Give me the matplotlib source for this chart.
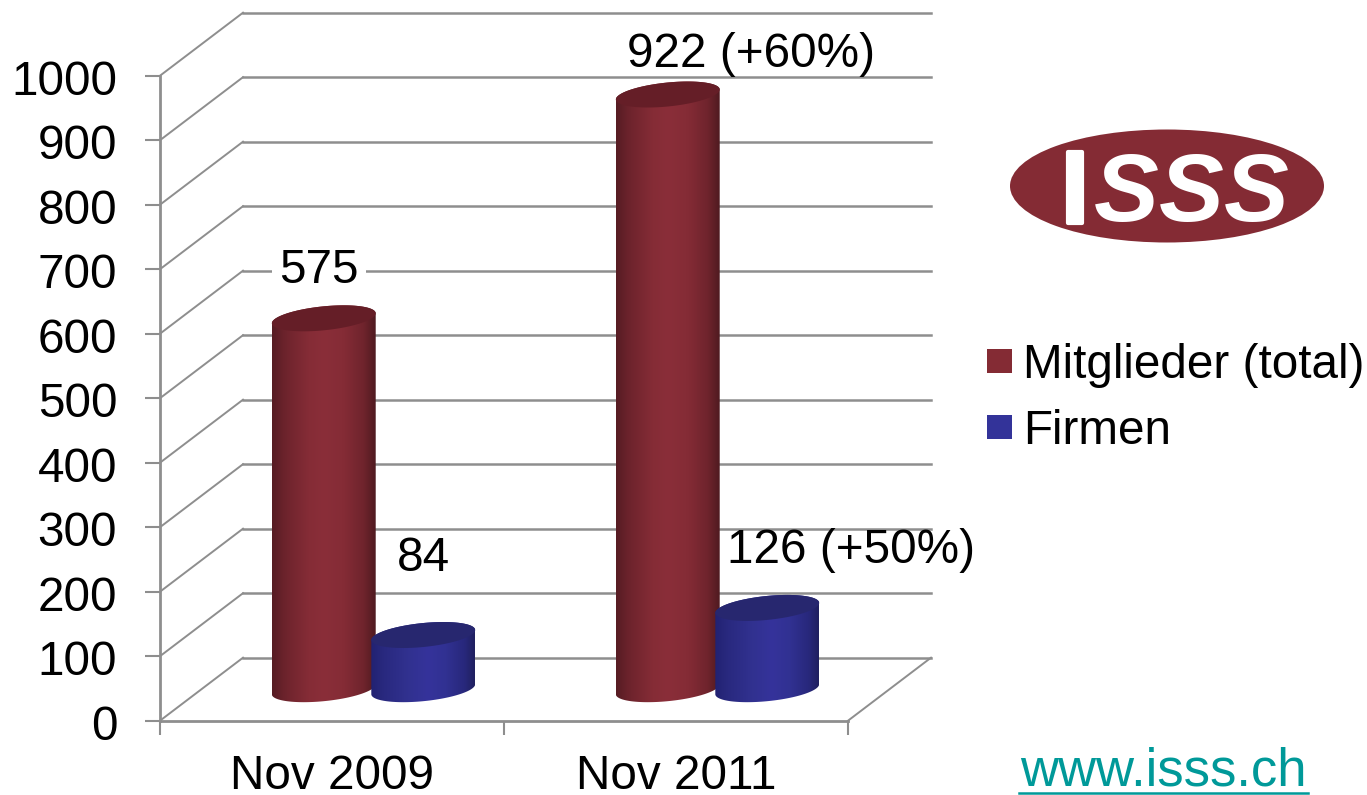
import numpy as np
import matplotlib
matplotlib.use('Agg')
import matplotlib.pyplot as plt
import matplotlib.patheffects as pe
from matplotlib.colors import LinearSegmentedColormap
from matplotlib.lines import Line2D
from matplotlib.patches import Ellipse, Patch, PathPatch
from matplotlib.path import Path
from matplotlib.transforms import ScaledTranslation

plt.rcParams['font.family'] = ['Liberation Sans', 'DejaVu Sans']

W, H = 1367, 795

categories = ['Nov 2009', 'Nov 2011']
series_names = ['Mitglieder (total)', 'Firmen']
mitglieder = [575, 922]
firmen = [84, 126]
labels_mitglieder = ['575', '922 (+60%)']
labels_firmen = ['84', '126 (+50%)']
yticks = [0, 100, 200, 300, 400, 500, 600, 700, 800, 900, 1000]

# colours
RED = '#842b34'
BLUE = '#333399'
GRID = '#8e8e8e'
red_top = '#651e27'
blue_top = '#27276f'
red_cmap = LinearSegmentedColormap.from_list('r', [(0, '#561c23'), (.12, '#6c232c'), (.35, '#852c36'), (.5, '#8a2e39'), (.68, '#852c36'), (.88, '#70242d'), (1, '#4f1a20')])
blue_cmap = LinearSegmentedColormap.from_list('b', [(0, '#222272'), (.12, '#29297f'), (.35, '#31318f'), (.55, '#35339b'), (.72, '#313192'), (.9, '#28287c'), (1, '#20205f')])

# 3d look, in axis units (x: one category = 1, y: chart value)
DEPTH_X = 0.2413
DEPTH_Y = 97.7
BAR_A = 0.151      # half width of cylinder
BAR_B = 18.6       # ellipse half height
BAR_S = 7.75       # tilt of ellipse
BAR_OFF = 0.1446   # series offset from the category centre
FS = 34.3


def fx(px):
    return px / W


def fy(py):
    return 1 - py / H


def cylinder(ax, cx, value, cmap, top_color):
    base = DEPTH_Y / 2
    t = np.linspace(np.pi, 2 * np.pi, 60)
    bx = cx + BAR_A * np.cos(t)
    by = base + BAR_B * np.sin(t) + BAR_S * np.cos(t)
    t2 = np.linspace(0, 2 * np.pi, 120)
    tx = cx + BAR_A * np.cos(t2)
    ty = base + value + BAR_B * np.sin(t2) + BAR_S * np.cos(t2)
    # body outline: bottom half ellipse, then up and over the top half
    t3 = t2[:60]
    ux = cx + BAR_A * np.cos(t3)
    uy = base + value + BAR_B * np.sin(t3) + BAR_S * np.cos(t3)
    verts = np.vstack([np.c_[bx, by], np.c_[ux, uy]])
    body = PathPatch(Path(verts), fc='none', ec='none', zorder=3)
    ax.add_patch(body)
    grad = np.linspace(0, 1, 256).reshape(1, -1)
    im = ax.imshow(grad, cmap=cmap, aspect='auto', zorder=3, interpolation='bilinear',
                   extent=(cx - BAR_A, cx + BAR_A, base - BAR_B - BAR_S, base + value + BAR_B + BAR_S))
    im.set_clip_path(body)
    ax.fill(tx, ty, color=top_color, lw=0, zorder=3)


fig = plt.figure(figsize=(W / 100, H / 100), dpi=100, facecolor='white')
ax = fig.add_axes([fx(160), fy(720.7), 688 / W, 645 / H])

# walls
for v in yticks:
    ax.plot([0, DEPTH_X], [v, v + DEPTH_Y], color=GRID, lw=1.4, clip_on=False, zorder=1)
    ax.plot([DEPTH_X, 2 + DEPTH_X], [v + DEPTH_Y, v + DEPTH_Y], color=GRID, lw=1.8, clip_on=False, zorder=1)
ax.plot([2, 2 + DEPTH_X], [0, DEPTH_Y], color=GRID, lw=1.4, clip_on=False, zorder=1)

# bars and labels
offsets_m = [(-5, 48), (83, 40)]
offsets_f = [(0, 77), (83.5, 57)]
for i in range(len(categories)):
    c = i + 0.5 + DEPTH_X / 2
    cylinder(ax, c - BAR_OFF, mitglieder[i], red_cmap, red_top)
    cylinder(ax, c + BAR_OFF, firmen[i], blue_cmap, blue_top)
    box = dict(fc='white', ec='none', pad=5) if i == 0 else None
    ax.annotate(labels_mitglieder[i], (c - BAR_OFF, mitglieder[i] + DEPTH_Y / 2),
                xytext=(offsets_m[i][0] * .72, offsets_m[i][1] * .72), textcoords='offset points',
                ha='center', va='center', fontsize=FS, color='black', bbox=box, zorder=2)
    ax.annotate(labels_firmen[i], (c + BAR_OFF, firmen[i] + DEPTH_Y / 2),
                xytext=(offsets_f[i][0] * .72, offsets_f[i][1] * .72), textcoords='offset points',
                ha='center', va='center', fontsize=FS, color='black', zorder=4, annotation_clip=False)

ax.set_xlim(0, 2)
ax.set_ylim(0, 1000)
ax.patch.set_alpha(0)
for s in ['top', 'right']:
    ax.spines[s].set_visible(False)
for s in ['left', 'bottom']:
    ax.spines[s].set_color(GRID)
    ax.spines[s].set_linewidth(2)
ax.set_yticks(yticks)
ax.set_yticklabels([str(v) for v in yticks], fontsize=FS)
ax.tick_params(axis='y', length=10.8, width=1.5, color=GRID, pad=20)
down = ScaledTranslation(0, -1.5 / 100, fig.dpi_scale_trans)
for lab in ax.get_yticklabels():
    lab.set_transform(lab.get_transform() + down)
ax.set_xticks([0, 1, 2])
ax.set_xticklabels([])
ax.tick_params(axis='x', length=10, width=1.5, color=GRID)
ax.set_xticks([0.5, 1.5], minor=True)
ax.set_xticklabels(categories, minor=True, fontsize=FS)
ax.tick_params(axis='x', which='minor', length=0, pad=24)

# legend
handles = [Patch(fc=RED, ec='none', label=series_names[0]), Patch(fc=BLUE, ec='none', label=series_names[1])]
fig.legend(handles=handles, loc='upper left', bbox_to_anchor=(fx(987), fy(343)), frameon=False, fontsize=FS,
           handlelength=0.523, handleheight=0.42, handletextpad=0.23, labelspacing=0.44, borderpad=0, borderaxespad=0)

# logo
logo = Ellipse((fx(1167), fy(186)), 314 / W, 113 / H, transform=fig.transFigure, fc=RED, ec='none')
fig.add_artist(logo)
fig.text(fx(1075), fy(222.7), 'I', color='white', fontsize=74, fontweight='bold', ha='center', va='baseline',
         path_effects=[pe.withStroke(linewidth=3, foreground='white')])
for lx in [1126.7, 1191.7, 1256.7]:
    fig.text(fx(lx), fy(221.5), 'S', color='white', fontsize=70, fontweight='bold', fontstyle='italic', ha='center', va='baseline')

# link
fig.text(fx(1163.5), fy(785), 'www.isss.ch', color='#009999', fontsize=37.9, ha='center', va='baseline')
fig.add_artist(Line2D([fx(1019), fx(1308)], [fy(793), fy(793)], color='#009999', lw=1.8, transform=fig.transFigure))

fig.savefig('out.png', dpi=100)
